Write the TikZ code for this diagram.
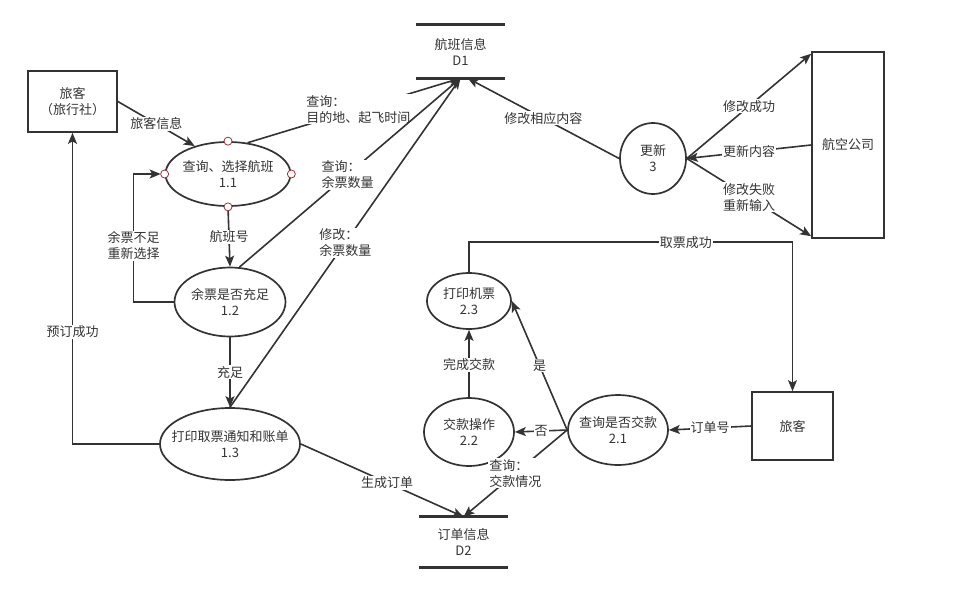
\documentclass[tikz,border=0pt]{standalone}
\usepackage{fontspec}
\setmainfont{Noto Sans CJK SC}
\usetikzlibrary{shapes.geometric,arrows.meta}
\definecolor{ink}{HTML}{333333}
\definecolor{port}{HTML}{A0303A}

\begin{document}
\begin{tikzpicture}[x=1pt,y=-1pt,
	every node/.style={font=\fontsize{13}{16}\selectfont,text=ink,align=center},
	proc/.style={ellipse,draw=ink,line width=1.7pt,inner sep=-12pt},
	ext/.style={rectangle,draw=ink,line width=1.7pt},
	store/.style={rectangle,inner sep=0pt},
	bar/.style={draw=ink,line width=3pt},
	flow/.style={draw=ink,line width=1.6pt,-{Stealth[length=11pt,width=9pt,inset=2.5pt]}},
	lbl/.style={fill=white,inner sep=1pt},
	dot/.style={draw=port,fill=white,line width=0.8pt}]
				\useasboundingbox (0,0) rectangle (974,592);
				
				\node[ext,minimum width=89pt,minimum height=61pt] (v1) at (72.5,101.5) {旅客\\（旅行社）};
				\node[proc,minimum width=125pt,minimum height=64pt] (v2) at (228,174) {查询、选择航班\\1.1};
				\node[proc,minimum width=111pt,minimum height=69pt] (v3) at (230,302) {余票是否充足\\1.2};
				\node[proc,minimum width=140pt,minimum height=72pt] (v4) at (230,444) {打印取票通知和账单\\1.3};
				\node[store,minimum width=89pt,minimum height=53pt] (v5) at (460.5,51.5) {航班信息\\D1};
				\node[proc,minimum width=66pt,minimum height=71pt] (v6) at (653,158.5) {更新\\3};
				\node[ext,minimum width=72pt,minimum height=186pt] (v7) at (848,145) {航空公司};
				\node[proc,minimum width=84pt,minimum height=56pt] (v8) at (469,301) {打印机票\\2.3};
				\node[proc,minimum width=90pt,minimum height=68pt] (v9) at (469,432) {交款操作\\2.2};
				\node[proc,minimum width=100pt,minimum height=70pt] (v10) at (618,430) {查询是否交款\\2.1};
				\node[ext,minimum width=81pt,minimum height=68pt] (v11) at (792.5,426) {旅客};
				\node[store,minimum width=89pt,minimum height=50pt] (v12) at (463.5,542) {订单信息\\D2};
				
				\draw[bar] (v5.north west) -- (v5.north east);
				\draw[bar] (v5.south west) -- (v5.south east);
				\draw[bar] (v12.north west) -- (v12.north east);
				\draw[bar] (v12.south west) -- (v12.south east);
				
				\draw[flow] (v1.east) -- node[lbl] (l1) {旅客信息} (v2.140);
				\draw[flow] (v2.58) -- node[lbl,align=left,pos=0.52] (l2) {查询：\\目的地、起飞时间} (v5.south);
				\draw[flow] (v3.75) -- node[lbl,align=left,pos=0.49] (l3) {查询：\\余票数量} (v5.south);
				\draw[flow] (v4.north) -- node[lbl,align=left] (l4) {修改：\\余票数量} (v5.south);
				\draw[flow] (v2.south) -- node[lbl] (l5) {航班号} (v3.north);
				\draw[flow] (v3.south) -- node[lbl] (l6) {充足} (v4.north);
				\draw[flow,shorten >=4pt] (v3.west) -- ++(-40,0) |- node[lbl,pos=0.22] (l7) {余票不足\\重新选择} (v2.west);
				\draw[flow] (v4.west) -| node[lbl,pos=0.68] (l8) {预订成功} (v1.south);
				\draw[flow] (v4.east) -- node[lbl,pos=0.53] (l9) {生成订单} (v12.north);
				
				\draw[flow] (v6.west) -- node[lbl] (l10) {修改相应内容} (v5.-75);
				\draw[flow] (v6.east) -- node[lbl] (l11) {修改成功} (v7.112);
				\draw[flow] (v7.west) -- node[lbl] (l12) {更新内容} (v6.east);
				\draw[flow] (v6.east) -- node[lbl] (l13) {修改失败\\重新输入} (v7.248);
				
				\draw[flow] (v11.west) -- node[lbl] (l14) {订单号} (v10.east);
				\draw[flow] (v10.west) -- node[lbl] (l15) {否} (v9.east);
				\draw[flow] (v10.west) -- node[lbl] (l16) {是} (v8.east);
				\draw[flow] (v10.west) -- node[lbl,align=left] (l17) {查询：\\交款情况} (v12.north);
				\draw[flow] (v9.north) -- node[lbl,pos=0.48] (l18) {完成交款} (v8.south);
				\draw[flow] (v8.north) -- ++(0,-30) -| node[lbl,pos=0.335] (l19) {取票成功} (v11.north);
				
				\draw[dot] (v2.north) circle (4pt);
				\draw[dot] (v2.south) circle (4pt);
				\draw[dot] (v2.east) circle (4pt);
				\draw[dot] (v2.west) circle (4pt);
\end{tikzpicture}
\end{document}
